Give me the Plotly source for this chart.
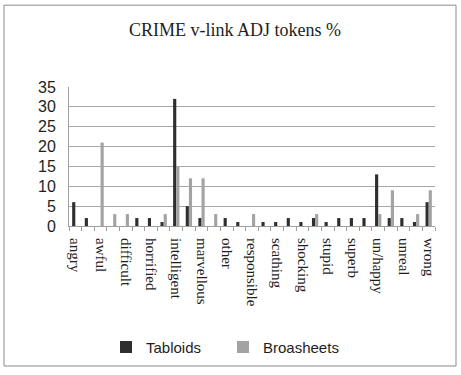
import plotly.graph_objects as go

# 29 adjective slots; every second slot carries a visible label
labels = ["angry", "awful", "difficult", "horrified", "intelligent", "marvellous",
          "other", "responsible", "scathing", "shocking", "stupid", "superb",
          "un/happy", "unreal", "wrong"]
tabloids = [6, 2, 0, 0, 0, 2, 2, 1, 32, 5, 2, 0, 2, 1, 0, 1, 1, 2, 1, 2, 1, 2, 2, 2, 13, 2, 2, 1, 6]
broadsheets = [0, 0, 21, 3, 3, 0, 0, 3, 15, 12, 12, 3, 0, 0, 3, 0, 0, 0, 0, 3, 0, 0, 0, 0, 3, 9, 0, 3, 9]
y_ticks = [0, 5, 10, 15, 20, 25, 30, 35]

xs = list(range(len(tabloids)))
label_pos = list(range(0, len(tabloids), 2))

W, H = 461, 375
L, R, T, B = 69, 26, 87, 147
pw, ph = W - L - R, H - T - B

fig = go.Figure()
fig.add_trace(go.Bar(x=xs, y=tabloids, name="Tabloids", marker_color="#2e2e2e",
                     marker_line_width=0))
fig.add_trace(go.Bar(x=xs, y=broadsheets, name="Broasheets", marker_color="#a3a3a3",
                     marker_line_width=0))

def px_x(p):
    return (p - L) / pw

def px_y(p):
    return (H - B - p) / ph

fig.update_layout(
    width=W, height=H,
    margin=dict(l=L, r=R, t=T, b=B),
    paper_bgcolor="white", plot_bgcolor="white",
    barmode="group", bargap=0.5, bargroupgap=0.0,
    title=dict(text="CRIME v-link ADJ tokens %", x=0.51, xanchor="center",
               y=1 - 30 / H, yanchor="middle", yref="container",
               font=dict(family="Liberation Serif", size=18, color="#1e1e1e")),
    xaxis=dict(range=[-0.5, len(tabloids) - 0.5], tickmode="array",
               tickvals=label_pos, ticktext=labels, tickangle=90,
               tickfont=dict(family="Liberation Serif", size=15, color="#1e1e1e"),
               showgrid=False, zeroline=False, showline=True,
               linecolor="#a0a0a0", linewidth=1, ticks="", ticklen=0,
               ticklabelstandoff=8,
               minor=dict(tickmode="linear", tick0=-0.5, dtick=1, ticks="outside",
                          ticklen=4, tickcolor="#a0a0a0", showgrid=False)),
    yaxis=dict(range=[0, 35], tickmode="array", tickvals=y_ticks,
               tickfont=dict(family="Liberation Sans", size=16, color="#1e1e1e"),
               showgrid=True, gridcolor="#a8a8a8", gridwidth=1,
               zeroline=False, showline=True, linecolor="#a0a0a0", linewidth=1,
               ticks="", ticklabelstandoff=9),
    legend=dict(orientation="h", x=px_x(106), xanchor="left", y=px_y(351), yanchor="middle",
                font=dict(family="Liberation Sans", size=15, color="#1e1e1e"),
                itemwidth=30, entrywidth=72, bgcolor="rgba(0,0,0,0)"),
    shapes=[dict(type="rect", xref="paper", yref="paper",
                 x0=px_x(4), x1=px_x(456), y0=px_y(370), y1=px_y(4),
                 line=dict(color="#8a8a8a", width=1), fillcolor="rgba(0,0,0,0)",
                 layer="below")],
)

fig.write_html("out.html")
